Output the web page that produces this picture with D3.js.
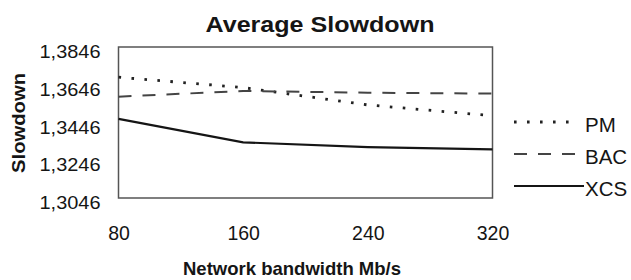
<!DOCTYPE html>
<html><head><meta charset="utf-8">
<script src="https://cdn.jsdelivr.net/npm/d3@7"></script>
<style>
html,body{margin:0;padding:0;background:#fff;}
text{font-family:"Liberation Sans",Arial,Helvetica,sans-serif;fill:#151515;}
</style></head>
<body><svg id="c" width="631" height="280"></svg>
<script>
const bandwidth = [80, 160, 240, 320];
const pmValues  = [1.3686, 1.3631, 1.3539, 1.3482];
const bacValues = [1.3583, 1.3613, 1.3604, 1.3599];
const xcsValues = [1.3465, 1.3341, 1.3316, 1.3304];
const seriesNames = ["PM", "BAC", "XCS"];
const yTickValues = [1.3846, 1.3646, 1.3446, 1.3246, 1.3046];
const yTickLabels = ["1,3846", "1,3646", "1,3446", "1,3246", "1,3046"];
const xTickValues = [80, 160, 240, 320];

const svg = d3.select("#c");
const L = 118.5, R = 492.5, T = 47, B = 198;
const x = d3.scaleLinear().domain([80, 320]).range([L, R]);
const y = d3.scaleLinear().domain([1.3046, 1.3846]).range([B, T]);

// title
svg.append("text").attr("x", 320).attr("y", 31.5).attr("text-anchor", "middle")
  .attr("font-size", 22.5).attr("font-weight", "bold")
  .attr("textLength", 229).attr("lengthAdjust", "spacingAndGlyphs")
  .text("Average Slowdown");

// frame
svg.append("rect").attr("x", L).attr("y", T).attr("width", R - L).attr("height", B - T)
  .attr("fill", "none").attr("stroke", "#555").attr("stroke-width", 1.5);

// y axis
const yAxis = svg.append("g").attr("transform", `translate(${L},0)`)
  .call(d3.axisLeft(y).tickValues(yTickValues).tickSize(0).tickPadding(18)
    .tickFormat((d, i) => yTickLabels[i]));
yAxis.select(".domain").remove();
yAxis.selectAll("text").attr("font-size", 19).attr("dy", "0.56em")
  .attr("font-family", '"Liberation Sans",Arial,sans-serif').attr("fill", "#151515")
  .attr("textLength", 61).attr("lengthAdjust", "spacingAndGlyphs");

// x axis
const xAxis = svg.append("g").attr("transform", `translate(0,${B})`)
  .call(d3.axisBottom(x).tickValues(xTickValues).tickSize(0).tickPadding(28));
xAxis.select(".domain").remove();
xAxis.selectAll("text").attr("font-size", 19.5)
  .attr("font-family", '"Liberation Sans",Arial,sans-serif').attr("fill", "#151515");

// axis titles
svg.append("text").attr("x", 292).attr("y", 275).attr("text-anchor", "middle")
  .attr("font-size", 18.5).attr("font-weight", "bold")
  .attr("textLength", 218).attr("lengthAdjust", "spacingAndGlyphs")
  .text("Network bandwidth Mb/s");
svg.append("text").attr("transform", "translate(25,123) rotate(-90)").attr("text-anchor", "middle")
  .attr("font-size", 17.5).attr("font-weight", "bold")
  .attr("textLength", 100).attr("lengthAdjust", "spacingAndGlyphs")
  .text("Slowdown");

const styles = {
  PM:  {dash: "2.6,10.4", width: 2.8, color: "#222"},
  BAC: {dash: "13,11", width: 2, color: "#444"},
  XCS: {dash: null, width: 2.2, color: "#151515"}
};
const seriesData = {PM: pmValues, BAC: bacValues, XCS: xcsValues};
const line = d3.line().x(d => x(d[0])).y(d => y(d[1]));

seriesNames.forEach(name => {
  const pts = bandwidth.map((b, i) => [b, seriesData[name][i]]);
  const s = styles[name];
  svg.append("path").datum(pts).attr("d", line).attr("fill", "none")
    .attr("stroke", s.color).attr("stroke-width", s.width)
    .attr("stroke-dasharray", s.dash);
});

// legend
const legY = [122, 154, 186];
const legEnd = [572, 580, 584];
seriesNames.forEach((name, i) => {
  const s = styles[name];
  svg.append("line").attr("x1", 514).attr("x2", legEnd[i]).attr("y1", legY[i]).attr("y2", legY[i])
    .attr("stroke", s.color).attr("stroke-width", s.width).attr("stroke-dasharray", s.dash);
  svg.append("text").attr("x", 585).attr("y", legY[i] + 10).attr("font-size", 20.5).text(name);
});
</script></body></html>
